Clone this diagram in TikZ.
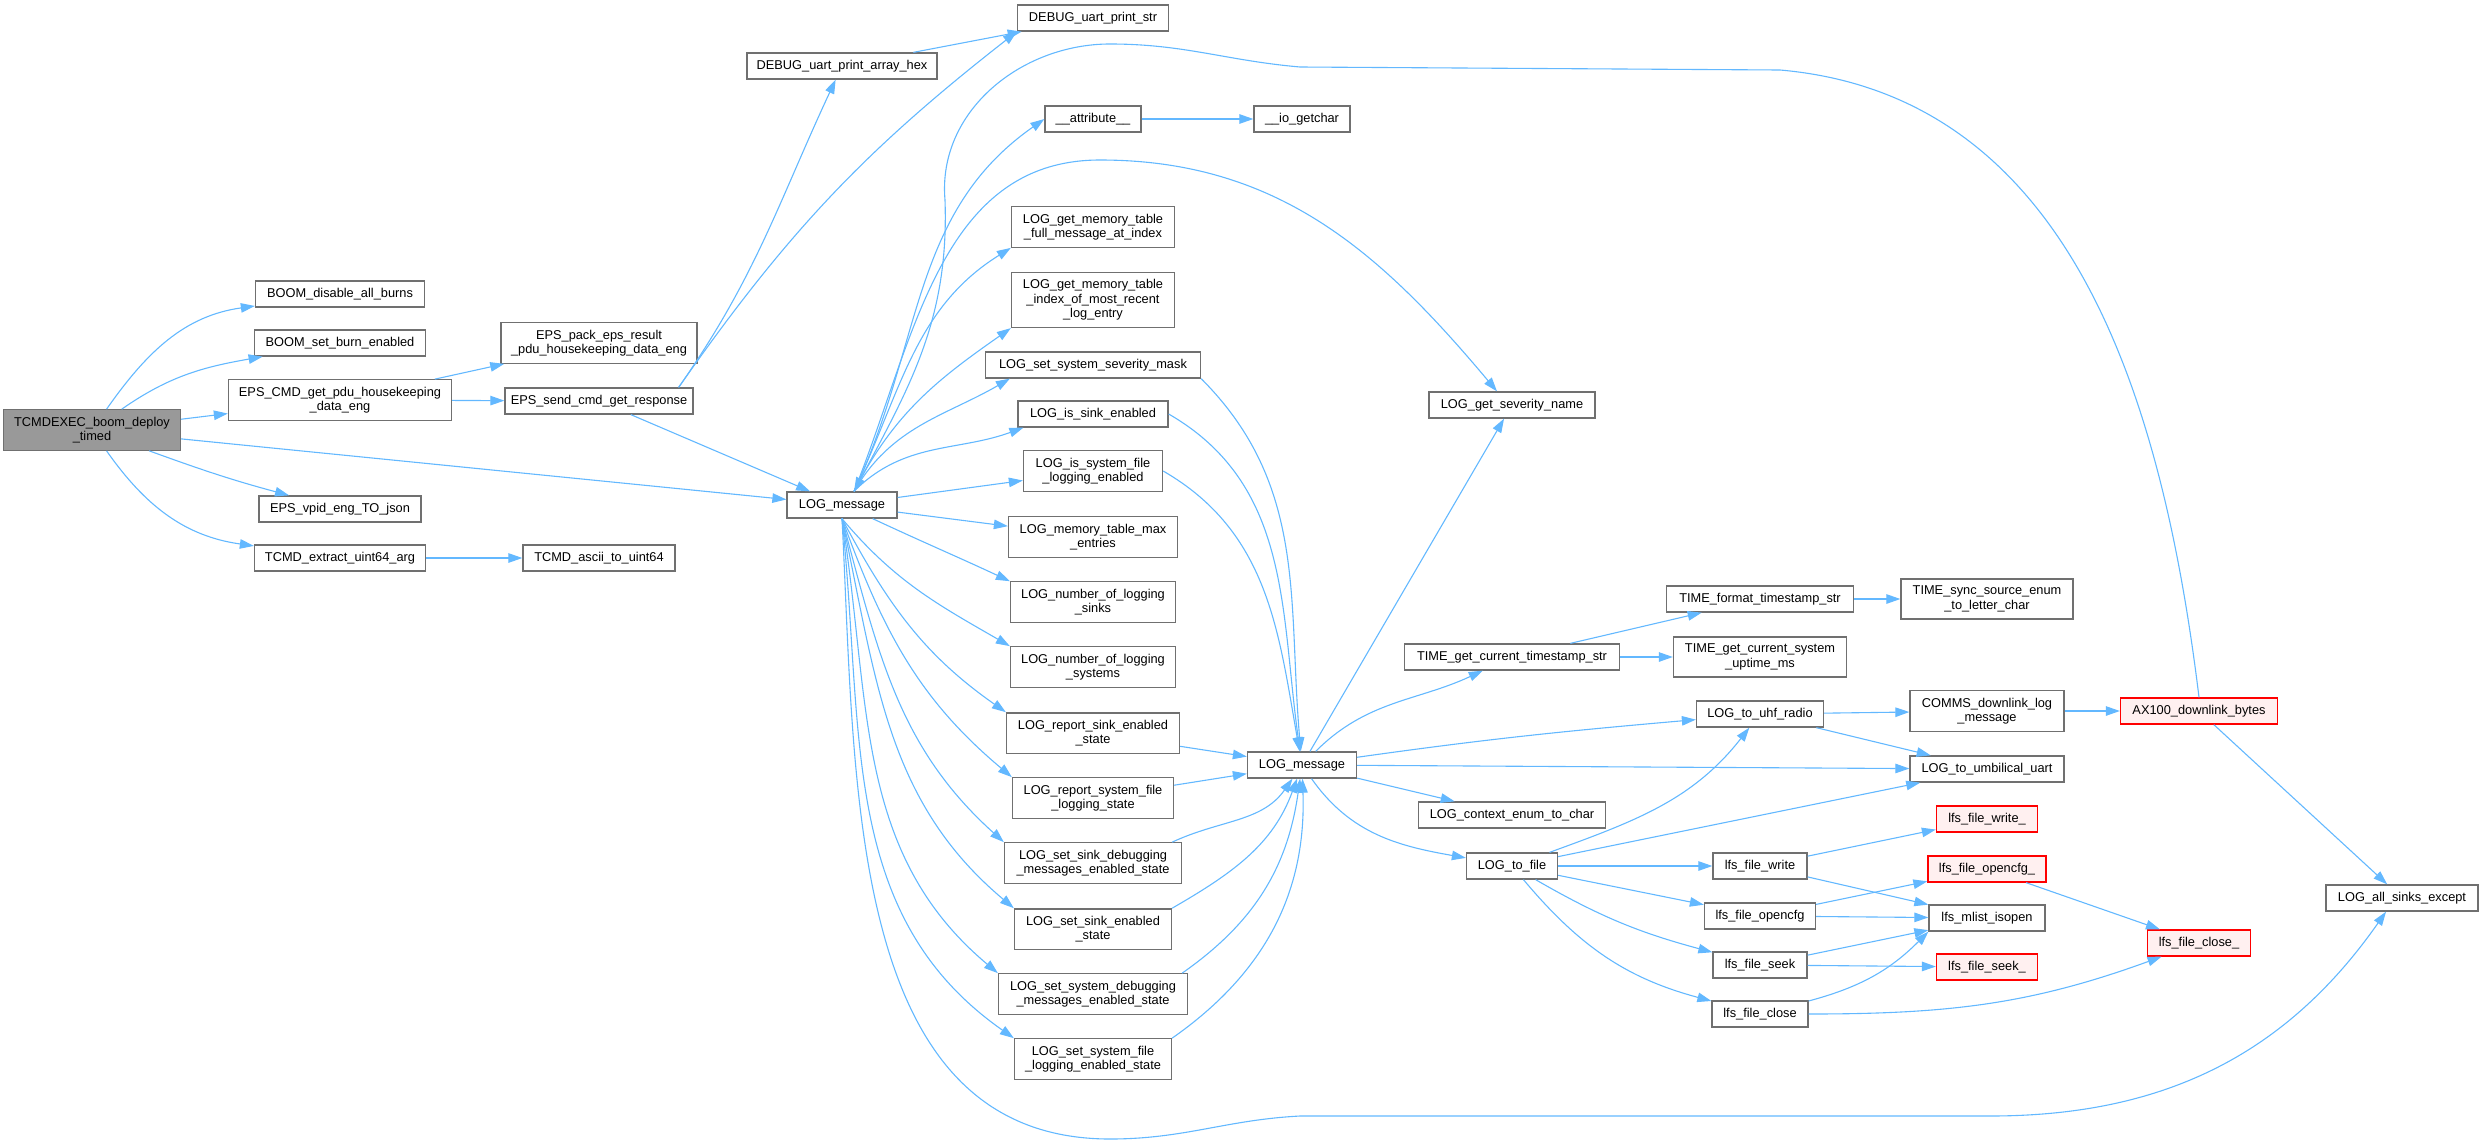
\documentclass[tikz,border=0pt]{standalone}
\usepackage{fontspec}
\setmainfont{Liberation Sans}
\usepackage{xcolor}
\usepackage{tikz}
\usetikzlibrary{arrows.meta}
\definecolor{boxline}{HTML}{707070}
\definecolor{rootgray}{HTML}{999999}
\definecolor{extpink}{HTML}{FFF0F0}
\definecolor{callblue}{HTML}{63B8FF}

\begin{document}
\begin{tikzpicture}[x=1pt, y=1pt,
	fn/.style={draw=boxline, fill=white, line width=1.3pt, inner xsep=4pt, inner ysep=7pt,
		minimum height=26pt, align=center, font=\fontsize{12.8}{14.5}\selectfont},
	rootfn/.style={fn, fill=rootgray},
	extfn/.style={fn, draw=red},
	extfn/.append style={fill=extpink},
	wd/.style={minimum width=#1pt},
	call/.style={draw=callblue, line width=1.1pt, -{Triangle[length=14pt,width=9.5pt]}}]
	\useasboundingbox (0,0) rectangle (2483,-1146);
	% root
	\node[rootfn, wd=177] (root) at (92,-430) {TCMDEXEC\_boom\_deploy\\\_timed};
	% first callees
	\node[fn, wd=169] (bdis) at (340,-294) {BOOM\_disable\_all\_burns};
	\node[fn, wd=171] (bset) at (340,-343) {BOOM\_set\_burn\_enabled};
	\node[fn, wd=223] (epscmd) at (340,-400) {EPS\_CMD\_get\_pdu\_housekeeping\\\_data\_eng};
	\node[fn, wd=162] (vpid) at (340,-509) {EPS\_vpid\_eng\_TO\_json};
	\node[fn, wd=171] (tcmdx) at (340,-558) {TCMD\_extract\_uint64\_arg};
	\node[fn, wd=196] (epspack) at (599,-343) {EPS\_pack\_eps\_result\\\_pdu\_housekeeping\_data\_eng};
	\node[fn, wd=188] (epssend) at (599,-401) {EPS\_send\_cmd\_get\_response};
	\node[fn, wd=152] (ascii) at (599,-558) {TCMD\_ascii\_to\_uint64};
	\node[fn, wd=190] (hex) at (842,-66) {DEBUG\_uart\_print\_array\_hex};
	\node[fn, wd=110] (logA) at (842,-505) {LOG\_message};
	% log helpers
	\node[fn, wd=151] (dstr) at (1093,-18) {DEBUG\_uart\_print\_str};
	\node[fn, wd=96] (attr) at (1093,-119) {\_\_attribute\_\_};
	\node[fn, wd=163] (full) at (1093,-227) {LOG\_get\_memory\_table\\\_full\_message\_at\_index};
	\node[fn, wd=163] (recent) at (1093,-300) {LOG\_get\_memory\_table\\\_index\_of\_most\_recent\\\_log\_entry};
	\node[fn, wd=215] (mask) at (1093,-365) {LOG\_set\_system\_severity\_mask};
	\node[fn, wd=150] (sinken) at (1093,-414) {LOG\_is\_sink\_enabled};
	\node[fn, wd=139] (sysfile) at (1093,-471) {LOG\_is\_system\_file\\\_logging\_enabled};
	\node[fn, wd=169] (maxent) at (1093,-537) {LOG\_memory\_table\_max\\\_entries};
	\node[fn, wd=165] (nsinks) at (1093,-602) {LOG\_number\_of\_logging\\\_sinks};
	\node[fn, wd=165] (nsys) at (1093,-667) {LOG\_number\_of\_logging\\\_systems};
	\node[fn, wd=173] (rsink) at (1093,-733) {LOG\_report\_sink\_enabled\\\_state};
	\node[fn, wd=161] (rsys) at (1093,-798) {LOG\_report\_system\_file\\\_logging\_state};
	\node[fn, wd=177] (ssdbg) at (1093,-863) {LOG\_set\_sink\_debugging\\\_messages\_enabled\_state};
	\node[fn, wd=157] (ssen) at (1093,-929) {LOG\_set\_sink\_enabled\\\_state};
	\node[fn, wd=189] (sysdbg) at (1093,-994) {LOG\_set\_system\_debugging\\\_messages\_enabled\_state};
	\node[fn, wd=157] (sysfen) at (1093,-1059) {LOG\_set\_system\_file\\\_logging\_enabled\_state};
	\node[fn, wd=96] (getc) at (1302,-119) {\_\_io\_getchar};
	\node[fn, wd=109] (logB) at (1302,-765) {LOG\_message};
	% second log level
	\node[fn, wd=166] (sevname) at (1512,-405) {LOG\_get\_severity\_name};
	\node[fn, wd=215] (tstamp) at (1512,-657) {TIME\_get\_current\_timestamp\_str};
	\node[fn, wd=187] (ctx) at (1512,-815) {LOG\_context\_enum\_to\_char};
	\node[fn, wd=91] (tofile) at (1512,-866) {LOG\_to\_file};
	\node[fn, wd=187] (tfmt) at (1760,-599) {TIME\_format\_timestamp\_str};
	\node[fn, wd=173] (uptime) at (1760,-657) {TIME\_get\_current\_system\\\_uptime\_ms};
	\node[fn, wd=127] (uhf) at (1760,-714) {LOG\_to\_uhf\_radio};
	\node[fn, wd=94] (fwrite) at (1760,-866) {lfs\_file\_write};
	\node[fn, wd=111] (fopen) at (1760,-916) {lfs\_file\_opencfg};
	\node[fn, wd=94] (fseek) at (1760,-965) {lfs\_file\_seek};
	\node[fn, wd=96] (fclose) at (1760,-1014) {lfs\_file\_close};
	\node[fn, wd=172] (tsync) at (1987,-599) {TIME\_sync\_source\_enum\\\_to\_letter\_char};
	\node[fn, wd=154] (comms) at (1987,-711) {COMMS\_downlink\_log\\\_message};
	\node[fn, wd=154] (uart) at (1987,-769) {LOG\_to\_umbilical\_uart};
	\node[extfn, wd=101] (fwriteu) at (1987,-819) {lfs\_file\_write\_};
	\node[extfn, wd=118] (fopenu) at (1987,-869) {lfs\_file\_opencfg\_};
	\node[fn, wd=116] (isopen) at (1987,-918) {lfs\_mlist\_isopen};
	\node[extfn, wd=101] (fseeku) at (1987,-967) {lfs\_file\_seek\_};
	\node[extfn, wd=157] (ax100) at (2199,-711) {AX100\_downlink\_bytes};
	\node[extfn, wd=103] (fcloseu) at (2199,-943) {lfs\_file\_close\_};
	\node[fn, wd=152] (allsinks) at (2402,-898) {LOG\_all\_sinks\_except};
	% calls of the root
	\draw[call] (root) to[out=55,in=188] (bdis);
	\draw[call] (root) to[out=35,in=190] (bset);
	\draw[call] (root) -- (epscmd);
	\draw[call] (root) -- (logA);
	\draw[call] (root) to[out=-20,in=165] (vpid);
	\draw[call] (root) to[out=-55,in=172] (tcmdx);
	\draw[call] (epscmd) -- (epspack);
	\draw[call] (epscmd) -- (epssend);
	\draw[call] ([xshift=-15pt]epssend.north east) to[out=55,in=-115] (hex);
	\draw[call] ([xshift=-15pt]epssend.north east) to[out=55,in=218] (dstr.south west);
	\draw[call] (epssend) -- (logA);
	\draw[call] (hex) -- (dstr);
	\draw[call] (tcmdx) -- (ascii);
	\draw[call] (attr) -- (getc);
	% first LOG_message
	\draw[call] ([xshift=12pt]logA.north) to[out=65,in=215] (attr.west);
	\draw[call] ([xshift=12pt]logA.north) to[out=65,in=212] (full.south west);
	\draw[call] ([xshift=12pt]logA.north) to[out=63,in=215] (recent.south west);
	\draw[call] ([xshift=12pt]logA.north) to[out=60,in=210] ([xshift=25pt]mask.south west);
	\draw[call] ([xshift=12pt]logA.north) to[out=45,in=200] ([xshift=6pt]sinken.south west);
	\draw[call] (logA) -- (sysfile);
	\draw[call] (logA) -- (maxent);
	\draw[call] ([xshift=-25pt]logA.south east) to[out=-25,in=155] (nsinks.north west);
	\foreach \t/\o/\i in {nsys/-50/150, rsink/-62/145, rsys/-70/140, ssdbg/-75/138,
		ssen/-78/140, sysdbg/-81/140, sysfen/-84/145}
		\draw[call] (logA.south) to[out=\o,in=\i] (\t.north west);
	\draw[call] ([xshift=12pt]logA.north) to[out=68,in=180] (1100,-160)
		to[out=0,in=130] ([xshift=-15pt]sevname.north);
	\draw[call] (logA.south) to[out=-87,in=180] (1110,-1139) to[out=0,in=183] (1300,-1116)
		-- (1990,-1116) to[out=0,in=-125] ([xshift=-16pt]allsinks.south);
	\draw[call] (ax100.north) to[out=97,in=-5] (1780,-70) -- (1300,-67)
		to[out=175,in=0] (1110,-44) to[out=180,in=95] (945,-200)
		to[out=-88,in=62] ([xshift=12pt]logA.north);
	% second LOG_message
	\draw[call] (mask.south east) to[out=-45,in=95] (logB);
	\draw[call] (sinken.east) to[out=-30,in=98] (logB);
	\draw[call] (sysfile.east) to[out=-30,in=100] (logB);
	\draw[call] (rsink) -- (logB);
	\draw[call] (rsys) -- (logB);
	\draw[call] ([xshift=-10pt]ssdbg.north east) to[out=25,in=235] (logB);
	\draw[call] (ssen.north east) to[out=30,in=250] (logB);
	\draw[call] ([xshift=-6pt]sysdbg.north east) to[out=35,in=262] (logB);
	\draw[call] (sysfen.north east) to[out=35,in=272] (logB);
	\draw[call] (logB) -- (sevname);
	\draw[call] (logB) to[out=45,in=205] (tstamp);
	\draw[call] (logB) to[out=8,in=185] (uhf);
	\draw[call] (logB) -- (uart);
	\draw[call] (logB) -- (ctx);
	\draw[call] (logB) to[out=-55,in=170] (tofile);
	\draw[call] (tstamp) -- (tfmt);
	\draw[call] (tstamp) -- (uptime);
	\draw[call] (tfmt) -- (tsync);
	\draw[call] (uhf) -- (comms);
	\draw[call] (uhf) -- (uart);
	\draw[call] (comms) -- (ax100);
	\draw[call] (ax100) -- (allsinks);
	% file sink
	\draw[call] (tofile) to[out=20,in=-128] (uhf);
	\draw[call] (tofile) -- (uart);
	\draw[call] (tofile) -- (fwrite);
	\draw[call] (tofile) -- (fopen);
	\draw[call] (tofile) to[out=-30,in=165] (fseek);
	\draw[call] (tofile) to[out=-50,in=165] (fclose);
	\draw[call] (fwrite) -- (fwriteu);
	\draw[call] (fwrite) -- (isopen);
	\draw[call] (fopen) -- (fopenu);
	\draw[call] (fopen) -- (isopen);
	\draw[call] (fseek) -- (isopen);
	\draw[call] (fseek) -- (fseeku);
	\draw[call] (fclose) to[out=15,in=225] (isopen.south west);
	\draw[call] (fclose) to[out=0,in=-160] (fcloseu);
	\draw[call] (fopenu) -- (fcloseu);
\end{tikzpicture}
\end{document}
